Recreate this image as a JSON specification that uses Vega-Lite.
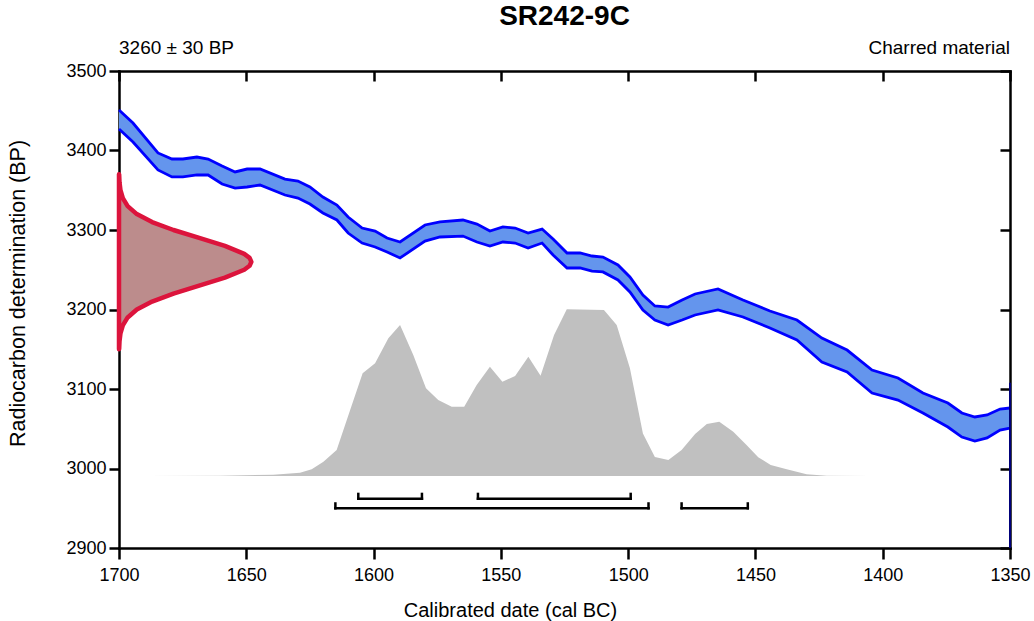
{
  "$schema": "https://vega.github.io/schema/vega-lite/v6.json",
  "width": 891,
  "height": 477,
  "autosize": {"type": "none"},
  "padding": {"left": 119, "top": 71, "right": 24, "bottom": 73},
  "background": "white",
  "config": {
    "view": {"stroke": null},
    "font": "Liberation Sans",
    "axis": {
      "domainColor": "black", "domainWidth": 2.5, "domainCap": "square",
      "tickColor": "black", "tickWidth": 2.5,
      "labelFont": "Liberation Sans", "labelFontSize": 18, "labelColor": "black",
      "titleFont": "Liberation Sans", "titleFontSize": 20, "titleFontWeight": "normal", "titleColor": "black",
      "grid": false, "labelFlush": false, "labelOverlap": false
    }
  },
  "datasets": {
    "curve": [
      {"cal": 1700.0, "hi": 3451, "lo": 3427},
      {"cal": 1694.5, "hi": 3434.6, "lo": 3410.7},
      {"cal": 1684.7, "hi": 3396.9, "lo": 3375.5},
      {"cal": 1679.2, "hi": 3389.3, "lo": 3366.7},
      {"cal": 1674.9, "hi": 3389.3, "lo": 3366.7},
      {"cal": 1669.4, "hi": 3391.8, "lo": 3369.2},
      {"cal": 1665.0, "hi": 3389.3, "lo": 3369.2},
      {"cal": 1659.5, "hi": 3380.5, "lo": 3357.9},
      {"cal": 1654.4, "hi": 3373.0, "lo": 3352.8},
      {"cal": 1649.7, "hi": 3376.7, "lo": 3354.1},
      {"cal": 1644.6, "hi": 3376.7, "lo": 3356.6},
      {"cal": 1634.8, "hi": 3364.1, "lo": 3344.0},
      {"cal": 1629.7, "hi": 3361.6, "lo": 3340.2},
      {"cal": 1625.0, "hi": 3354.1, "lo": 3332.7},
      {"cal": 1619.9, "hi": 3341.5, "lo": 3321.4},
      {"cal": 1614.4, "hi": 3331.4, "lo": 3312.6},
      {"cal": 1610.0, "hi": 3316.3, "lo": 3296.2},
      {"cal": 1604.5, "hi": 3302.5, "lo": 3283.6},
      {"cal": 1599.4, "hi": 3298.7, "lo": 3278.6},
      {"cal": 1594.7, "hi": 3289.9, "lo": 3272.3},
      {"cal": 1589.6, "hi": 3284.9, "lo": 3264.8},
      {"cal": 1579.8, "hi": 3306.3, "lo": 3286.1},
      {"cal": 1573.9, "hi": 3310.1, "lo": 3291.2},
      {"cal": 1564.9, "hi": 3312.6, "lo": 3292.4},
      {"cal": 1559.4, "hi": 3307.5, "lo": 3284.9},
      {"cal": 1554.3, "hi": 3298.7, "lo": 3279.9},
      {"cal": 1549.2, "hi": 3303.8, "lo": 3284.9},
      {"cal": 1544.4, "hi": 3302.5, "lo": 3283.6},
      {"cal": 1539.3, "hi": 3296.2, "lo": 3277.3},
      {"cal": 1533.8, "hi": 3301.2, "lo": 3283.6},
      {"cal": 1529.5, "hi": 3288.7, "lo": 3268.5},
      {"cal": 1524.0, "hi": 3271.1, "lo": 3252.2},
      {"cal": 1518.9, "hi": 3271.1, "lo": 3252.2},
      {"cal": 1514.2, "hi": 3267.3, "lo": 3248.4},
      {"cal": 1509.9, "hi": 3266.0, "lo": 3247.2},
      {"cal": 1504.0, "hi": 3256.0, "lo": 3237.1},
      {"cal": 1499.3, "hi": 3240.9, "lo": 3222.0},
      {"cal": 1494.2, "hi": 3218.2, "lo": 3199.4},
      {"cal": 1489.5, "hi": 3204.4, "lo": 3186.8},
      {"cal": 1484.3, "hi": 3203.1, "lo": 3180.5},
      {"cal": 1478.8, "hi": 3211.9, "lo": 3186.8},
      {"cal": 1473.7, "hi": 3219.5, "lo": 3193.1},
      {"cal": 1464.7, "hi": 3225.8, "lo": 3199.4},
      {"cal": 1454.9, "hi": 3211.9, "lo": 3190.6},
      {"cal": 1444.3, "hi": 3198.1, "lo": 3176.7},
      {"cal": 1433.7, "hi": 3186.8, "lo": 3161.6},
      {"cal": 1423.9, "hi": 3164.1, "lo": 3134.0},
      {"cal": 1414.0, "hi": 3149.0, "lo": 3121.4},
      {"cal": 1404.2, "hi": 3123.9, "lo": 3094.9},
      {"cal": 1394.0, "hi": 3113.8, "lo": 3086.1},
      {"cal": 1384.2, "hi": 3094.9, "lo": 3069.8},
      {"cal": 1374.4, "hi": 3082.4, "lo": 3052.2},
      {"cal": 1368.9, "hi": 3069.8, "lo": 3039.6},
      {"cal": 1363.8, "hi": 3064.8, "lo": 3034.6},
      {"cal": 1359.0, "hi": 3067.3, "lo": 3038.4},
      {"cal": 1353.9, "hi": 3074.8, "lo": 3048.4},
      {"cal": 1350.0, "hi": 3076.1, "lo": 3050.9}
    ],
    "likelihood": [
      {"bp": 3150, "cal": 1699.94},
      {"bp": 3160, "cal": 1699.8},
      {"bp": 3170, "cal": 1699.42},
      {"bp": 3180, "cal": 1698.5},
      {"bp": 3190, "cal": 1696.6},
      {"bp": 3200, "cal": 1693.0},
      {"bp": 3210, "cal": 1687.0},
      {"bp": 3220, "cal": 1678.6},
      {"bp": 3230, "cal": 1668.5},
      {"bp": 3240, "cal": 1658.4},
      {"bp": 3250, "cal": 1650.8},
      {"bp": 3255, "cal": 1648.7},
      {"bp": 3260, "cal": 1648.0},
      {"bp": 3265, "cal": 1648.7},
      {"bp": 3270, "cal": 1650.8},
      {"bp": 3280, "cal": 1658.4},
      {"bp": 3290, "cal": 1668.5},
      {"bp": 3300, "cal": 1678.6},
      {"bp": 3310, "cal": 1687.0},
      {"bp": 3320, "cal": 1693.0},
      {"bp": 3330, "cal": 1696.6},
      {"bp": 3340, "cal": 1698.5},
      {"bp": 3350, "cal": 1699.42},
      {"bp": 3360, "cal": 1699.8},
      {"bp": 3370, "cal": 1699.94}
    ],
    "dist": [
      {"cal": 1689.1, "top": 2990.5},
      {"cal": 1660.3, "top": 2990.9},
      {"cal": 1639.4, "top": 2992.2},
      {"cal": 1628.9, "top": 2994.7},
      {"cal": 1624.3, "top": 2999.0},
      {"cal": 1619.7, "top": 3008.5},
      {"cal": 1614.5, "top": 3023.3},
      {"cal": 1609.2, "top": 3073.6},
      {"cal": 1604.3, "top": 3119.7},
      {"cal": 1599.4, "top": 3132.3},
      {"cal": 1594.2, "top": 3163.8},
      {"cal": 1589.6, "top": 3180.5},
      {"cal": 1584.4, "top": 3142.8},
      {"cal": 1579.4, "top": 3100.9},
      {"cal": 1574.6, "top": 3086.1},
      {"cal": 1569.3, "top": 3077.7},
      {"cal": 1564.4, "top": 3077.7},
      {"cal": 1559.5, "top": 3105.0},
      {"cal": 1554.3, "top": 3128.0},
      {"cal": 1549.4, "top": 3109.2},
      {"cal": 1544.4, "top": 3116.3},
      {"cal": 1539.2, "top": 3140.6},
      {"cal": 1534.4, "top": 3116.7},
      {"cal": 1529.1, "top": 3167.9},
      {"cal": 1524.1, "top": 3200.2},
      {"cal": 1509.5, "top": 3199.4},
      {"cal": 1504.5, "top": 3180.5},
      {"cal": 1499.3, "top": 3126.0},
      {"cal": 1494.2, "top": 3043.9},
      {"cal": 1489.5, "top": 3014.4},
      {"cal": 1484.2, "top": 3010.7},
      {"cal": 1479.0, "top": 3023.3},
      {"cal": 1473.7, "top": 3043.4},
      {"cal": 1469.1, "top": 3056.0},
      {"cal": 1464.2, "top": 3058.9},
      {"cal": 1458.7, "top": 3046.3},
      {"cal": 1453.5, "top": 3029.5},
      {"cal": 1448.9, "top": 3014.1},
      {"cal": 1444.0, "top": 3004.4},
      {"cal": 1437.7, "top": 2998.9},
      {"cal": 1429.9, "top": 2992.7},
      {"cal": 1422.0, "top": 2990.9},
      {"cal": 1405.0, "top": 2990.5}
    ],
    "ranges": [
      {"start": 1606, "end": 1581, "y": 2962, "ytop": 2968},
      {"start": 1559, "end": 1499, "y": 2962, "ytop": 2968},
      {"start": 1615, "end": 1492, "y": 2950, "ytop": 2956},
      {"start": 1479, "end": 1453, "y": 2950, "ytop": 2956}
    ],
    "labels": [
      {"label": "SR242-9C", "cal": 1525, "bp": 3500, "kind": "title"},
      {"label": "3260 ± 30 BP", "cal": 1700, "bp": 3500, "kind": "left"},
      {"label": "Charred material", "cal": 1350, "bp": 3500, "kind": "right"}
    ]
  },
  "layer": [
    {
      "data": {"name": "dist"},
      "mark": {"type": "area", "color": "#c0c0c0", "opacity": 1},
      "encoding": {
        "x": {"field": "cal", "type": "quantitative", "scale": {"domain": [1350, 1700], "reverse": true, "nice": false, "zero": false},
              "axis": {"orient": "bottom", "values": [1350, 1400, 1450, 1500, 1550, 1600, 1650, 1700], "format": "d", "tickSize": 11, "labelPadding": 7,
                       "title": "Calibrated date (cal BC)", "titleX": 391, "titleY": 68, "titleBaseline": "alphabetic"}},
        "y": {"field": "top", "type": "quantitative", "scale": {"domain": [2900, 3500], "nice": false, "zero": false},
              "axis": {"orient": "left", "values": [2900, 3000, 3100, 3200, 3300, 3400, 3500], "format": "d", "tickSize": 10, "labelPadding": 3,
                       "title": "Radiocarbon determination (BP)", "titleFontSize": 21.5, "titleX": -101, "titleY": 222, "titleBaseline": "middle", "titleAngle": -90}},
        "y2": {"datum": 2990.5}
      }
    },
    {
      "data": {"name": "curve"},
      "mark": {"type": "area", "color": "#6495ed", "opacity": 1},
      "encoding": {
        "x": {"field": "cal", "type": "quantitative",
              "axis": {"orient": "top", "values": [1350, 1400, 1450, 1500, 1550, 1600, 1650, 1700], "tickSize": -10, "labels": false, "title": null}},
        "y": {"field": "hi", "type": "quantitative",
              "axis": {"orient": "right", "values": [2900, 3000, 3100, 3200, 3300, 3400, 3500], "tickSize": -10, "labels": false, "title": null}},
        "y2": {"field": "lo"}
      }
    },
    {
      "data": {"name": "curve"},
      "mark": {"type": "line", "color": "#0000ff", "strokeWidth": 2.8},
      "encoding": {
        "x": {"field": "cal", "type": "quantitative", "axis": null},
        "y": {"field": "hi", "type": "quantitative", "axis": null}
      }
    },
    {
      "data": {"name": "curve"},
      "mark": {"type": "line", "color": "#0000ff", "strokeWidth": 2.8},
      "encoding": {
        "x": {"field": "cal", "type": "quantitative", "axis": null},
        "y": {"field": "lo", "type": "quantitative", "axis": null}
      }
    },
    {
      "data": {"name": "likelihood"},
      "mark": {"type": "area", "orient": "horizontal", "fill": "#bc8c8c", "fillOpacity": 1, "stroke": "#dc143c", "strokeWidth": 4.5, "strokeJoin": "round"},
      "encoding": {
        "y": {"field": "bp", "type": "quantitative", "axis": null},
        "x": {"field": "cal", "type": "quantitative", "axis": null},
        "x2": {"datum": 1700}
      }
    },
    {
      "data": {"name": "ranges"},
      "mark": {"type": "rule", "color": "black", "strokeWidth": 2.5, "strokeCap": "square"},
      "encoding": {
        "x": {"field": "start", "type": "quantitative", "axis": null},
        "x2": {"field": "end"},
        "y": {"field": "y", "type": "quantitative", "axis": null}
      }
    },
    {
      "data": {"name": "ranges"},
      "mark": {"type": "rule", "color": "black", "strokeWidth": 2.5, "strokeCap": "square"},
      "encoding": {
        "x": {"field": "start", "type": "quantitative", "axis": null},
        "y": {"field": "y", "type": "quantitative", "axis": null},
        "y2": {"field": "ytop"}
      }
    },
    {
      "data": {"name": "ranges"},
      "mark": {"type": "rule", "color": "black", "strokeWidth": 2.5, "strokeCap": "square"},
      "encoding": {
        "x": {"field": "end", "type": "quantitative", "axis": null},
        "y": {"field": "y", "type": "quantitative", "axis": null},
        "y2": {"field": "ytop"}
      }
    },
    {
      "data": {"values": [{}]},
      "mark": {"type": "rule", "color": "#00007a", "strokeWidth": 2},
      "encoding": {
        "x": {"datum": 1350, "type": "quantitative", "axis": null},
        "y": {"datum": 3108, "type": "quantitative", "axis": null},
        "y2": {"datum": 2900}
      }
    },
    {
      "data": {"name": "labels"},
      "transform": [{"filter": "datum.kind === 'title'"}],
      "mark": {"type": "text", "align": "center", "baseline": "alphabetic", "dy": -46, "fontSize": 28, "fontWeight": "bold", "font": "Liberation Sans", "color": "black"},
      "encoding": {
        "x": {"field": "cal", "type": "quantitative", "axis": null},
        "y": {"field": "bp", "type": "quantitative", "axis": null},
        "text": {"field": "label"}
      }
    },
    {
      "data": {"name": "labels"},
      "transform": [{"filter": "datum.kind === 'left'"}],
      "mark": {"type": "text", "align": "left", "baseline": "alphabetic", "dy": -17, "fontSize": 19, "font": "Liberation Sans", "color": "black"},
      "encoding": {
        "x": {"field": "cal", "type": "quantitative", "axis": null},
        "y": {"field": "bp", "type": "quantitative", "axis": null},
        "text": {"field": "label"}
      }
    },
    {
      "data": {"name": "labels"},
      "transform": [{"filter": "datum.kind === 'right'"}],
      "mark": {"type": "text", "align": "right", "baseline": "alphabetic", "dy": -17, "fontSize": 19, "font": "Liberation Sans", "color": "black"},
      "encoding": {
        "x": {"field": "cal", "type": "quantitative", "axis": null},
        "y": {"field": "bp", "type": "quantitative", "axis": null},
        "text": {"field": "label"}
      }
    }
  ],
  "resolve": {"axis": {"x": "independent", "y": "independent"}}
}
